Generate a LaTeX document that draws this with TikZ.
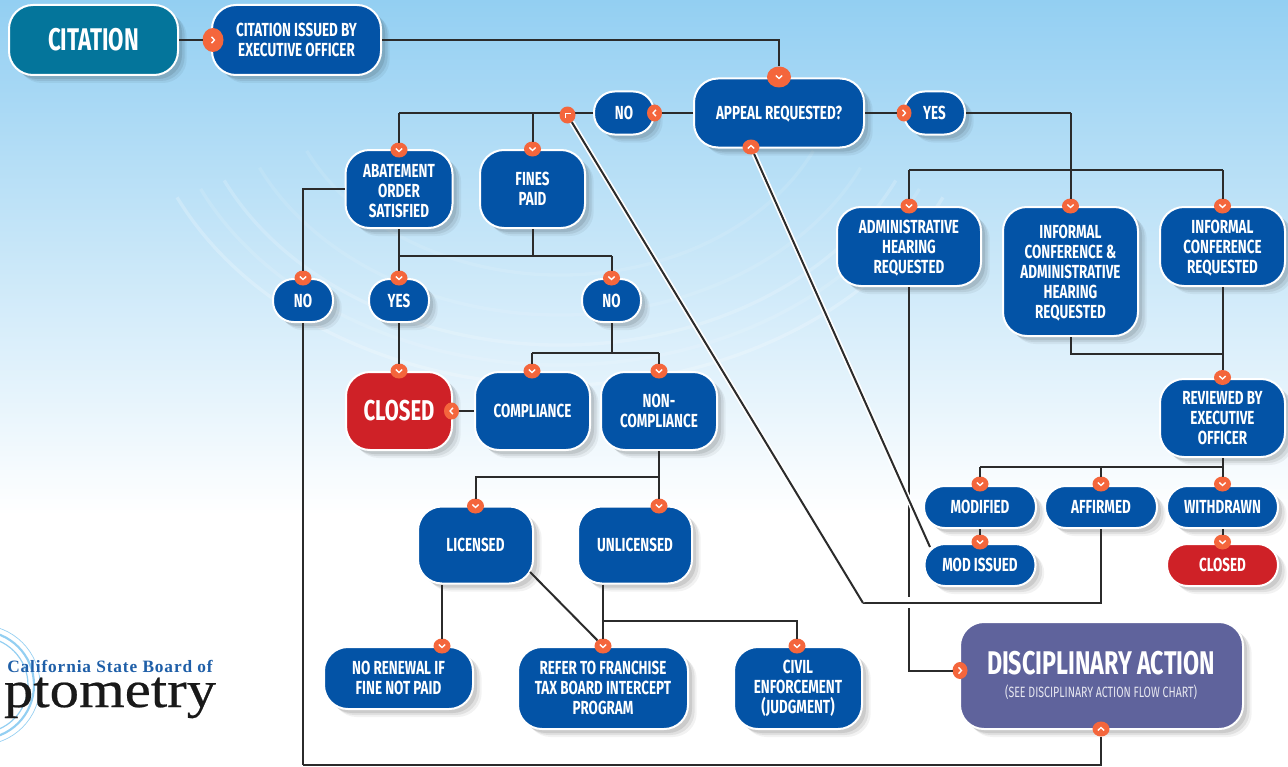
\documentclass[tikz,border=0pt]{standalone}
\usepackage{fontspec}
\setmainfont{Liberation Serif}
\newfontfamily\boxfont[FakeStretch=0.71]{Fira Sans}
\newfontfamily\logofont[FakeBold=0.4,FakeStretch=1.13]{Liberation Serif}
\newfontfamily\logotop[LetterSpace=5]{Liberation Serif}
\usetikzlibrary{shadows,shapes.geometric,calc}

\definecolor{skyblue}{HTML}{93CFF2}
\definecolor{boxblue}{HTML}{0353A6}
\definecolor{boxteal}{HTML}{04759B}
\definecolor{boxred}{HTML}{CF2127}
\definecolor{boxpurple}{HTML}{5F639C}
\definecolor{dotorange}{HTML}{F4663C}
\definecolor{linegray}{HTML}{2B2B2B}
\definecolor{logoblue}{HTML}{1F5FA8}

\newcommand{\lowline}{\rule{0pt}{12.5pt}}

\begin{document}
\begin{tikzpicture}[x=0.75pt,y=-0.75pt,
					auto,
					line width=1.5pt,
					soft shadow/.style={
						general shadow={shadow xshift=6.5pt,shadow yshift=-6pt,fill=black,opacity=.05},
						general shadow={shadow xshift=5pt,shadow yshift=-4.5pt,fill=black,opacity=.07},
						general shadow={shadow xshift=3pt,shadow yshift=-3pt,fill=black,opacity=.09}},
					size/.style 2 args={minimum width=#1*0.75pt,minimum height=#2*0.75pt},
					main node/.style={soft shadow,draw=white,fill=boxblue,text=white,align=center,inner sep=0pt,
						rounded corners=18pt,font=\boxfont\bfseries\fontsize{14.2}{15}\selectfont},
					pill node/.style={main node,rounded corners=15.5pt},
					wide dot/.style={ellipse,fill=dotorange,inner sep=0pt,outer sep=0pt,size={17}{15}},
					tall dot/.style={ellipse,fill=dotorange,inner sep=0pt,outer sep=0pt,size={15}{17}},
					chevron/.style={path picture={\draw[white,line width=1pt,shift={(path picture bounding box.center)}] #1;}},
					dot down/.style={wide dot,chevron={(-3.2,-1.5) -- (0,1.5) -- (3.2,-1.5)}},
					dot up/.style={wide dot,chevron={(-3.2,1.5) -- (0,-1.5) -- (3.2,1.5)}},
					dot right/.style={tall dot,chevron={(-1.5,-3.2) -- (1.5,0) -- (-1.5,3.2)}},
					dot left/.style={tall dot,chevron={(1.5,-3.2) -- (-1.5,0) -- (1.5,3.2)}},
					link/.style={draw=linegray,line width=1.5pt},
					cased link/.style={link,preaction={draw=white,line width=4pt}}]

  \useasboundingbox (0,0) rectangle (1288,767);

  % background
  \begin{scope}
    \clip (0,0) rectangle (1288,767);
    \fill[white] (0,0) rectangle (1288,767);
    \shade[top color=skyblue,bottom color=white,draw=none] (0,0) rectangle (1288,515);
    \foreach \r/\o in {325/.22,305/.12,285/.18,255/.10,215/.10}
      \draw[white,line width=2.5pt,opacity=\o] (560,60) ++({-\r*1.3*cos(25)},{\r*sin(25)})
        arc[start angle=205,end angle=335,x radius=\r*1.3*0.75pt,y radius=\r*0.75pt];
    % logo rings
    \foreach \r/\w in {60/.5,54/1.6,48/.9}
      \draw[skyblue,line width=\w pt] (-20,685) circle[radius=\r*0.75pt];
  \end{scope}

  % boxes
  \node[main node,fill=boxteal,size={169}{70},font=\boxfont\bfseries\fontsize{23.5}{25}\selectfont] (citation) at (93.5,40) {CITATION};
  \node[main node,size={169}{70}] (issued) at (296.5,40) {CITATION ISSUED BY\\EXECUTIVE OFFICER};
  \node[main node,size={170}{69},text depth=0pt] (appeal) at (779,113) {APPEAL REQUESTED?};
  \node[pill node,size={60}{43}] (no top) at (624,113) {NO};
  \node[pill node,size={61}{43}] (yes top) at (934.5,113) {YES};
  \node[main node,size={107}{78}] (abatement) at (399,189) {\lowline ABATEMENT\\ORDER\\SATISFIED};
  \node[main node,size={105}{78}] (fines) at (532.5,189) {FINES\\PAID};
  \node[pill node,size={60}{43}] (no left) at (303,300.5) {NO};
  \node[pill node,size={60}{43}] (yes left) at (399,300.5) {YES};
  \node[pill node,size={59}{43}] (no mid) at (611.5,300.5) {NO};
  \node[main node,fill=boxred,size={106}{78},font=\boxfont\bfseries\fontsize{21.5}{23}\selectfont] (closed) at (399,411) {CLOSED};
  \node[main node,size={115}{78}] (compliance) at (532.5,411) {COMPLIANCE};
  \node[main node,size={116}{78}] (noncompliance) at (659,411) {NON-\\COMPLIANCE};
  \node[main node,size={115}{77}] (licensed) at (475.5,545) {LICENSED};
  \node[main node,size={114}{77}] (unlicensed) at (635,545) {UNLICENSED};
  \node[main node,size={149}{62}] (renewal) at (398.5,678) {NO RENEWAL IF\\FINE NOT PAID};
  \node[main node,size={170}{82}] (franchise) at (603,688) {REFER TO FRANCHISE\\TAX BOARD INTERCEPT\\PROGRAM};
  \node[main node,size={128}{82}] (civil) at (798,688) {CIVIL\\ENFORCEMENT\\(JUDGMENT)};
  \node[main node,size={144}{79}] (hearing) at (909,246.5) {\lowline ADMINISTRATIVE\\HEARING\\REQUESTED};
  \node[main node,size={135}{129}] (both) at (1070.5,271.5) {\lowline INFORMAL\\CONFERENCE \&\\ADMINISTRATIVE\\HEARING\\REQUESTED};
  \node[main node,size={125}{79}] (informal) at (1222.5,246.5) {\lowline INFORMAL\\CONFERENCE\\REQUESTED};
  \node[main node,size={125}{78}] (reviewed) at (1222.5,418) {REVIEWED BY\\EXECUTIVE\\OFFICER};
  \node[pill node,size={112}{42}] (modified) at (980,507) {MODIFIED};
  \node[pill node,size={112}{42}] (affirmed) at (1101,507) {AFFIRMED};
  \node[pill node,size={111}{42}] (withdrawn) at (1222.5,507) {WITHDRAWN};
  \node[pill node,size={111}{42}] (mod issued) at (980,565) {MOD ISSUED};
  \node[pill node,fill=boxred,size={111}{42}] (closed low) at (1222.5,565) {CLOSED};
  \node[main node,fill=boxpurple,size={283}{107}] (discipline) at (1101.5,675.5) {};
  \node[text=white,font=\boxfont\bfseries\fontsize{24.6}{25}\selectfont] (discipline title) at (1101,663) {DISCIPLINARY ACTION};
  \node[text=white,opacity=.85,font=\boxfont\fontsize{11.2}{12}\selectfont] (discipline note) at (1101,692) {(SEE DISCIPLINARY ACTION FLOW CHART)};

  % logo
  \node[text=logoblue,inner sep=0pt,anchor=base,font=\logotop\bfseries\fontsize{13}{13}\selectfont] (logo top) at (110,672) {California State Board of};
  \node[text=black!90,inner sep=0pt,anchor=base,font=\logofont\fontsize{39}{39}\selectfont] (logo bottom) at (110,707) {ptometry};

  % arrow dots
  \node[dot right,size={21}{24}] (d issued) at (213,40) {};
  \node[dot down,size={24}{21}] (d appeal) at (779,77) {};
  \node[dot up] (d appeal low) at (751,147) {};
  \node[dot left] (d no top) at (654.5,113) {};
  \node[dot right] (d yes top) at (904,113) {};
  \node[dot down] (d abatement) at (399,150) {};
  \node[dot down] (d fines) at (532.5,149) {};
  \node[dot down] (d no left) at (303,278) {};
  \node[dot down] (d yes left) at (399,278) {};
  \node[dot down] (d no mid) at (611.5,278) {};
  \node[dot down] (d closed) at (399,371) {};
  \node[dot left] (d closed side) at (451.5,411) {};
  \node[dot down] (d compliance) at (532,371) {};
  \node[dot down] (d noncompliance) at (659,371) {};
  \node[dot down] (d licensed) at (475.5,506) {};
  \node[dot down] (d unlicensed) at (659,506) {};
  \node[dot down] (d renewal) at (442,646) {};
  \node[dot down] (d franchise) at (603,646) {};
  \node[dot down] (d civil) at (797,646) {};
  \node[dot down] (d hearing) at (909,206) {};
  \node[dot down] (d both) at (1070.5,206) {};
  \node[dot down] (d informal) at (1222.5,206) {};
  \node[dot down] (d reviewed) at (1222.5,377.5) {};
  \node[dot down] (d modified) at (980,484) {};
  \node[dot down] (d affirmed) at (1101,484) {};
  \node[dot down] (d withdrawn) at (1222.5,484) {};
  \node[dot down] (d mod issued) at (980,542) {};
  \node[dot down] (d closed low) at (1222.5,542) {};
  \node[dot right] (d discipline) at (960,670.5) {};
  \node[dot up] (d discipline low) at (1101,729) {};

  % junctions
  \coordinate (j top) at (399,113);
  \coordinate (j yes) at (1070.5,113);
  \coordinate (j hearing) at (909,170);
  \coordinate (j informal) at (1222.5,170);
  \coordinate (j both) at (1222.5,354);
  \coordinate (j review) at (1222.5,467);
  \coordinate (j left) at (399,256);
  \coordinate (j mid) at (611.5,256);
  \coordinate (j fines) at (532.5,256);
  \coordinate (j no) at (611.5,353);
  \coordinate (j licensed) at (659,477);
  \coordinate (j low) at (603,621);
  \coordinate (gap top) at (909,597);
  \coordinate (gap low) at (909,608);
  \coordinate (bend) at (863,603);
  \coordinate (edge licensed) at (530,572);
  \coordinate (edge mod) at (930,547);
  \coordinate (bottom) at (303,765);

  % connectors
  \path[link]
    (citation) edge (d issued)
    (issued.east) edge[to path={-| (\tikztotarget)}] (d appeal)
    (appeal.west) edge (d no top)
    (no top.west) edge (j top)
    (j top) edge (d abatement)
    (d fines |- j top) edge (d fines)
    (appeal.east) edge (d yes top)
    (yes top.east) edge (j yes)
    (j yes) edge (d both)
    (j hearing) edge (j informal)
    (j hearing) edge (d hearing)
    (j informal) edge (d informal)
    (informal.south) edge (d reviewed)
    (both.south) edge[to path={|- (\tikztotarget)}] (j both)
    (reviewed.south) edge (d withdrawn)
    (d modified |- j review) edge (j review)
    (d modified |- j review) edge (d modified)
    (d affirmed |- j review) edge (d affirmed)
    (modified) edge (d mod issued)
    (withdrawn) edge (d closed low)
    (hearing.south) edge (gap top)
    (gap low) edge[to path={|- (\tikztotarget)}] (d discipline)
    (abatement.west) edge[to path={-| (\tikztotarget)}] (d no left)
    (abatement.south) edge (d yes left)
    (j left) edge (j mid)
    (j mid) edge (d no mid)
    (fines.south) edge (j fines)
    (yes left) edge (d closed)
    (compliance.west) edge (d closed side)
    (no mid) edge (j no)
    (d compliance |- j no) edge (d noncompliance |- j no)
    (d compliance |- j no) edge (d compliance)
    (d noncompliance |- j no) edge (d noncompliance)
    (noncompliance.south) edge (d unlicensed)
    (j licensed) edge[to path={-| (\tikztotarget)}] (d licensed)
    (d renewal |- licensed.south) edge (d renewal)
    (edge licensed) edge (d franchise)
    (d franchise |- unlicensed.south) edge (d franchise)
    (j low) edge[to path={-| (\tikztotarget)}] (d civil)
    (no left.south) edge (bottom)
    (bottom) edge[to path={-| (\tikztotarget)}] (d discipline low)
    (bend) edge[to path={-| (\tikztotarget)}] (affirmed.south);

  % corner dot sits on the top line, the long links leave from it
  \node[wide dot,size={16}{17},chevron={(-1.8,3) -- (-1.8,-1.8) -- (3,-1.8)}] (d corner) at (567.5,115) {};
  \draw[cased link] (d corner) -- (bend);
  \draw[cased link] (d appeal low) -- (edge mod);
\end{tikzpicture}
\end{document}
